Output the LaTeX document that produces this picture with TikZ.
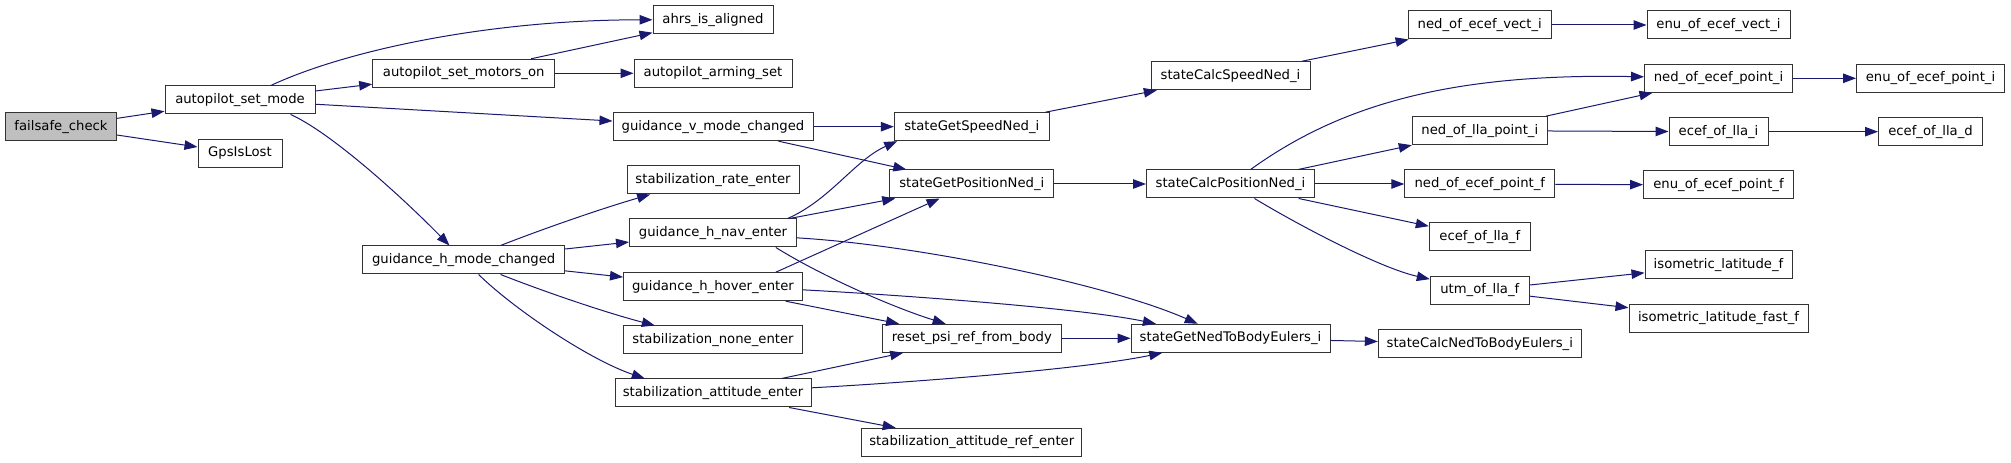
\documentclass[tikz,border=0pt]{standalone}
\usepackage{fontspec}
\setmainfont{DejaVu Sans}
\usetikzlibrary{arrows.meta}
\definecolor{edgeblue}{HTML}{191970}
\definecolor{rootgrey}{HTML}{BFBFBF}

\begin{document}
\begin{tikzpicture}[x=1pt, y=1pt,
  fn/.style={draw=black!80, fill=white, line width=1pt, minimum width=#1, minimum height=28pt,
    inner sep=0pt, font=\fontsize{13.2}{15}\selectfont},
  call/.style={draw=edgeblue, line width=1pt, -{Triangle[length=13pt,width=9.5pt]}}]
  \useasboundingbox (0,0) rectangle (2011,463);
  % The function itself and its direct callees.
  \node[fn=111, fill=rootgrey] (failsafe) at (61,336.3) {failsafe\_check};
  \node[fn=150] (setmode) at (240,363) {autopilot\_set\_mode};
  \node[fn=84] (gpslost) at (240,309.7) {GpsIsLost};
  \node[fn=182] (motorson) at (463.7,389.7) {autopilot\_set\_motors\_on};
  \node[fn=202] (hmode) at (463.7,203) {guidance\_h\_mode\_changed};
  \node[fn=120] (ahrs) at (713,443.3) {ahrs\_is\_aligned};
  \node[fn=158] (arming) at (713,389.7) {autopilot\_arming\_set};
  \node[fn=200] (vmode) at (713,336.3) {guidance\_v\_mode\_changed};
  \node[fn=172] (rate) at (713,283) {stabilization\_rate\_enter};
  \node[fn=167] (hnav) at (713,230) {guidance\_h\_nav\_enter};
  \node[fn=179] (hhover) at (713,176.3) {guidance\_h\_hover\_enter};
  \node[fn=179] (none) at (713,123) {stabilization\_none\_enter};
  \node[fn=196] (att) at (713,70) {stabilization\_attitude\_enter};
  % State interface.
  \node[fn=155] (getspeed) at (971.8,336.3) {stateGetSpeedNed\_i};
  \node[fn=164] (getpos) at (971.8,279) {stateGetPositionNed\_i};
  \node[fn=179] (resetpsi) at (971.8,124.7) {reset\_psi\_ref\_from\_body};
  \node[fn=220] (attref) at (971.8,20.7) {stabilization\_attitude\_ref\_enter};
  \node[fn=159] (calcspeed) at (1230.5,387.2) {stateCalcSpeedNed\_i};
  \node[fn=168] (calcpos) at (1230.5,279) {stateCalcPositionNed\_i};
  \node[fn=199] (getned) at (1230.5,124.7) {stateGetNedToBodyEulers\_i};
  % Geodetic conversions.
  \node[fn=143] (nedvect) at (1479.8,438) {ned\_of\_ecef\_vect\_i};
  \node[fn=135] (nedlla) at (1479.8,332.3) {ned\_of\_lla\_point\_i};
  \node[fn=150] (nedptf) at (1479.8,279) {ned\_of\_ecef\_point\_f};
  \node[fn=101] (eceff) at (1479.8,226) {ecef\_of\_lla\_f};
  \node[fn=99] (utm) at (1479.8,172.7) {utm\_of\_lla\_f};
  \node[fn=203] (calcned) at (1479.8,119.3) {stateCalcNedToBodyEulers\_i};
  \node[fn=143] (enuvect) at (1718.5,438) {enu\_of\_ecef\_vect\_i};
  \node[fn=148] (nedpti) at (1718.5,384.7) {ned\_of\_ecef\_point\_i};
  \node[fn=99] (ecefi) at (1718.5,331.3) {ecef\_of\_lla\_i};
  \node[fn=150] (enuptf) at (1718.5,278) {enu\_of\_ecef\_point\_f};
  \node[fn=147] (isolat) at (1718.5,198) {isometric\_latitude\_f};
  \node[fn=179] (isofast) at (1718.5,144.7) {isometric\_latitude\_fast\_f};
  \node[fn=148] (enupti) at (1930.5,384.7) {enu\_of\_ecef\_point\_i};
  \node[fn=104] (ecefd) at (1930.5,331.3) {ecef\_of\_lla\_d};

  % Calls, left to right.
  \draw[call] (failsafe) -- (setmode);
  \draw[call] (failsafe) -- (gpslost);
  \draw[call] (setmode) .. controls (340,410) and (480,443) .. (ahrs);
  \draw[call] (setmode) -- (motorson);
  \draw[call] (setmode) -- (vmode);
  \draw[call] (setmode.-16) .. controls (330,331) and (400,268) .. (hmode);
  \draw[call] (motorson) -- (ahrs);
  \draw[call] (motorson) -- (arming);
  \draw[call] (vmode) -- (getspeed);
  \draw[call] (vmode) -- (getpos);
  \draw[call] (hmode) .. controls (540,233) and (600,254) .. (rate.193);
  \draw[call] (hmode) -- (hnav);
  \draw[call] (hmode) -- (hhover);
  \draw[call] (hmode) .. controls (540,173) and (600,152) .. (none.166);
  \draw[call] (hmode) .. controls (515,153) and (590,103) .. (att.168);
  \draw[call] (hnav.11) .. controls (830,263) and (855,303) .. (getspeed.191);
  \draw[call] (hnav) -- (getpos);
  \draw[call] (hnav.-13) .. controls (825,185) and (895,155) .. (resetpsi.151);
  \draw[call] (hnav) .. controls (920,218) and (1110,178) .. (getned);
  \draw[call] (hhover.13) -- (getpos);
  \draw[call] (hhover) -- (resetpsi);
  \draw[call] (hhover.-2) .. controls (900,168) and (1080,155) .. (getned.169);
  \draw[call] (att) -- (resetpsi);
  \draw[call] (att.3) .. controls (900,80) and (1080,93) .. (getned.192);
  \draw[call] (att) -- (attref);
  \draw[call] (getspeed) -- (calcspeed);
  \draw[call] (getpos) -- (calcpos);
  \draw[call] (resetpsi) -- (getned);
  \draw[call] (getned) -- (calcned);
  \draw[call] (calcspeed) -- (nedvect);
  \draw[call] (nedvect) -- (enuvect);
  \draw[call] (calcpos) .. controls (1340,358) and (1450,390) .. (nedpti);
  \draw[call] (calcpos) -- (nedlla);
  \draw[call] (calcpos) -- (nedptf);
  \draw[call] (calcpos) -- (eceff);
  \draw[call] (calcpos) .. controls (1300,237) and (1380,195) .. (utm);
  \draw[call] (nedlla) -- (nedpti);
  \draw[call] (nedlla) -- (ecefi);
  \draw[call] (nedpti) -- (enupti);
  \draw[call] (ecefi) -- (ecefd);
  \draw[call] (nedptf) -- (enuptf);
  \draw[call] (utm) -- (isolat);
  \draw[call] (utm) -- (isofast);
\end{tikzpicture}
\end{document}
